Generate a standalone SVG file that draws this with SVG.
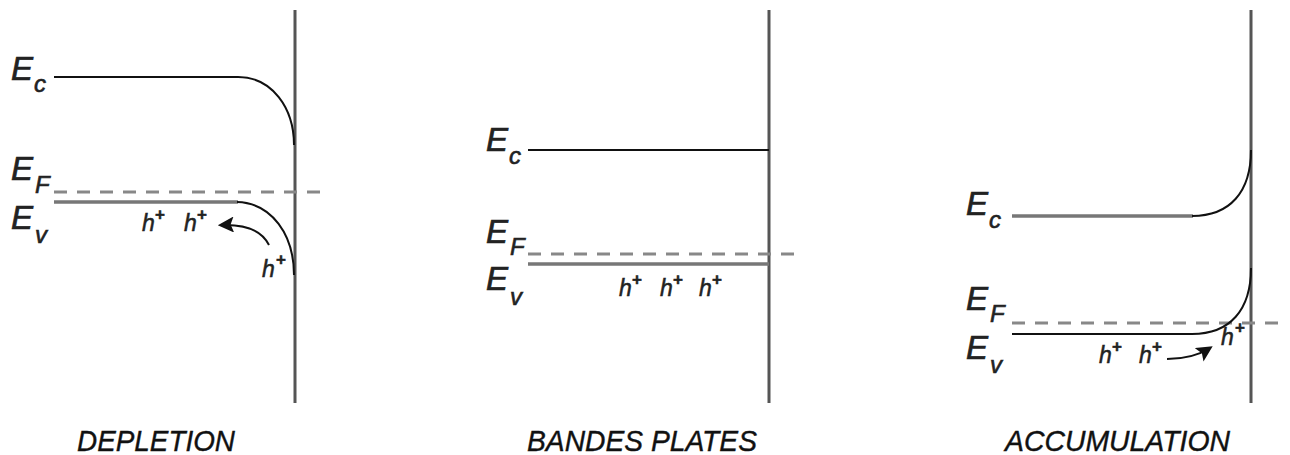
<svg xmlns="http://www.w3.org/2000/svg" width="1290" height="455" viewBox="0 0 1290 455">
<style>
.bg{fill:#fff}
.wall{stroke:#555;stroke-width:3;fill:none}
.thin{stroke:#111;stroke-width:2;fill:none}
.thick{stroke:#777;stroke-width:3.5;fill:none}
.dash{stroke:#888;stroke-width:3;stroke-dasharray:13 10;fill:none}
.arr{stroke:#111;stroke-width:2;fill:none;marker-end:url(#ah)}
.E{font-family:"Liberation Sans",Arial,sans-serif;font-style:italic;font-size:33px;fill:#222;stroke:#222;stroke-width:0.7}
.sub{font-size:24px;stroke-width:0.6}
.h{font-family:"Liberation Sans",Arial,sans-serif;font-style:italic;font-size:23px;fill:#222;stroke:#222;stroke-width:0.5}
.plus{font-size:17px;font-style:normal;font-weight:bold}
.title{font-family:"Liberation Sans",Arial,sans-serif;font-style:italic;font-size:30px;fill:#111;stroke:#111;stroke-width:0.4}
</style>
<defs>
<marker id="ah" viewBox="0 0 10 10" refX="8" refY="5" markerWidth="8" markerHeight="8" orient="auto" markerUnits="strokeWidth">
<path d="M0,0 L10,5 L0,10 L2,5 z" fill="#111"/>
</marker>
</defs>
<rect class="bg" x="0" y="0" width="1290" height="455"/>

<g id="depletion">
<line class="wall" x1="295" y1="10" x2="295" y2="403"/>
<path class="thin" d="M54,77 L238,77 C272,77 294,108 294,145"/>
<line class="dash" x1="54" y1="192" x2="329" y2="192"/>
<line class="thick" x1="54" y1="202" x2="238" y2="202"/>
<path class="thin" d="M237,202 C272,203 294,235 294,275"/>
<text class="E" x="11" y="80">E</text><text class="E sub" x="34" y="92">c</text>
<text class="E" x="11" y="180">E</text><text class="E sub" x="35" y="193">F</text>
<text class="E" x="11" y="229">E</text><text class="E sub" x="35" y="243">v</text>
<text class="h" x="142" y="231">h</text><text class="h plus" x="155" y="220">+</text>
<text class="h" x="184" y="231">h</text><text class="h plus" x="197" y="220">+</text>
<text class="h" x="262" y="277">h</text><text class="h plus" x="276" y="265">+</text>
<path class="arr" d="M269,245 C262,231 246,224 221,225"/>
<text class="title" x="77" y="451" textLength="158" lengthAdjust="spacingAndGlyphs">DEPLETION</text>
</g>

<g id="bandes-plates">
<line class="wall" x1="769" y1="10" x2="769" y2="403"/>
<line class="thin" x1="528" y1="150" x2="769" y2="150"/>
<line class="dash" x1="528" y1="254" x2="804" y2="254"/>
<line class="thick" x1="528" y1="264" x2="769" y2="264"/>
<text class="E" x="486" y="151">E</text><text class="E sub" x="509" y="164">c</text>
<text class="E" x="486" y="243">E</text><text class="E sub" x="510" y="255">F</text>
<text class="E" x="486" y="290">E</text><text class="E sub" x="510" y="305">v</text>
<text class="h" x="619" y="296">h</text><text class="h plus" x="632" y="285">+</text>
<text class="h" x="660" y="296">h</text><text class="h plus" x="673" y="285">+</text>
<text class="h" x="699" y="296">h</text><text class="h plus" x="712" y="285">+</text>
<text class="title" x="527" y="451" textLength="230" lengthAdjust="spacingAndGlyphs">BANDES PLATES</text>
</g>

<g id="accumulation">
<line class="wall" x1="1251" y1="10" x2="1251" y2="403"/>
<line class="thick" x1="1012" y1="216" x2="1193" y2="216"/>
<path class="thin" d="M1192,216 C1230,216 1251,192 1251,150"/>
<line class="dash" x1="1012" y1="323" x2="1285" y2="323"/>
<line class="thin" x1="1012" y1="334" x2="1193" y2="334"/>
<path class="thin" d="M1192,334 C1230,334 1251,310 1251,268"/>
<text class="E" x="966" y="215">E</text><text class="E sub" x="989" y="228">c</text>
<text class="E" x="966" y="310">E</text><text class="E sub" x="990" y="322">F</text>
<text class="E" x="966" y="359">E</text><text class="E sub" x="990" y="373">v</text>
<text class="h" x="1099" y="363">h</text><text class="h plus" x="1112" y="352">+</text>
<text class="h" x="1139" y="363">h</text><text class="h plus" x="1152" y="352">+</text>
<text class="h" x="1221" y="345">h</text><text class="h plus" x="1235" y="333">+</text>
<path class="arr" d="M1167,359 C1186,359 1199,355 1210,348"/>
<text class="title" x="1005" y="451" textLength="225" lengthAdjust="spacingAndGlyphs">ACCUMULATION</text>
</g>
</svg>
